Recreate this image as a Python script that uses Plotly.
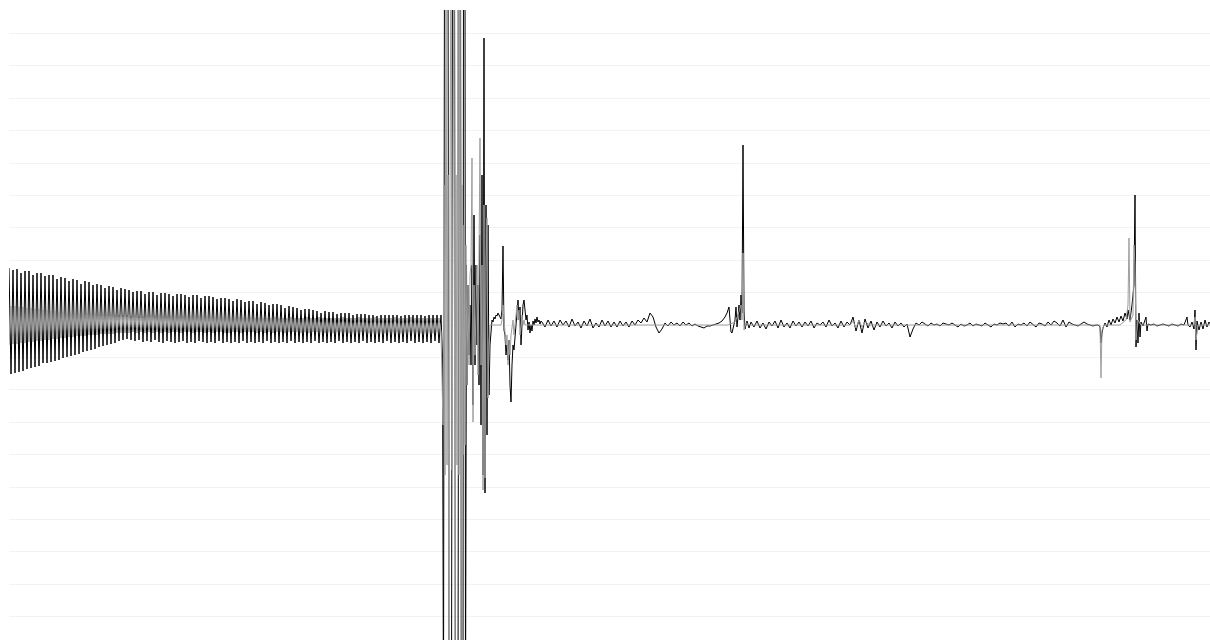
import plotly.graph_objects as go

# ---------------- data (sample index, amplitude) ----------------
# Segment 1: steady oscillation before the event (sampled every 2 samples from 9)
OSC_START, OSC_STEP = 9, 2
BLACK_OSC = [57, -49, 55, -48, 56, -47, 52, -46, 54, -44,
             54, -43, 50, -42, 52, -41, 52, -38, 49, -38,
             50, -37, 50, -36, 46, -35, 48, -33, 47, -32,
             44, -31, 46, -30, 45, -29, 41, -27, 44, -26,
             43, -25, 40, -24, 41, -22, 40, -21, 37, -20,
             39, -19, 38, -18, 35, -16, 37, -15, 36, -14,
             35, -15, 33, -16, 34, -15, 34, -17, 31, -16,
             33, -17, 33, -15, 30, -17, 32, -18, 32, -16,
             31, -17, 29, -18, 31, -17, 31, -16, 30, -18,
             28, -17, 30, -18, 30, -16, 27, -17, 29, -18,
             29, -17, 28, -18, 26, -16, 27, -18, 27, -17,
             26, -18, 24, -17, 26, -18, 25, -16, 23, -18,
             24, -17, 24, -18, 21, -17, 23, -18, 22, -16,
             20, -18, 21, -17, 21, -18, 20, -17, 17, -18,
             19, -16, 18, -18, 17, -17, 15, -18, 16, -17,
             16, -18, 15, -16, 14, -18, 12, -17, 14, -18,
             13, -17, 13, -18, 11, -16, 12, -18, 12, -17,
             12, -18, 10, -17, 11, -18, 11, -16, 11, -18,
             10, -17, 10, -18, 9, -17, 10, -18, 10, -16,
             10, -18, 10, -17, 10, -18, 9, -17, 10, -18,
             10, -16, 10, -18, 10, -17, 10, -18, 9, -17,
             10, -18, 10, -16, 10, -18,
             10]
GRAY_OSC = [-20, 19, -19, 19, -19, 18, -18, 18, -18, 17,
            -17, 17, -17, 16, -16, 16, -16, 15, -15, 15,
            -15, 14, -14, 14, -14, 13, -13, 13, -13, 12,
            -12, 12, -12, 11, -11, 11, -11, 11, -11, 10,
            -10, 10, -10, 10, -10, 9, -9, 9, -9, 9,
            -9, 9, -9, 8, -8, 8, -8, 8, -8, 8,
            -8, 7, -7, 8, -8, 7, -7, 7, -8, 8,
            -7, 8, -8, 7, -7, 8, -8, 7, -7, 7,
            -8, 7, -7, 8, -7, 7, -8, 7, -7, 8,
            -7, 7, -8, 8, -7, 7, -7, 8, -8, 7,
            -7, 7, -8, 7, -7, 8, -7, 7, -8, 7,
            -8, 7, -7, 7, -7, 8, -8, 7, -7, 7,
            -7, 8, -7, 7, -8, 7, -7, 7, -8, 7,
            -7, 7, -8, 8, -7, 7, -7, 7, -8, 7,
            -7, 8, -7, 7, -7, 7, -8, 7, -7, 8,
            -8, 7, -7, 7, -7, 8, -7, 7, -8, 7,
            -7, 7, -8, 7, -7, 7, -7, 8, -7, 7,
            -8, 7, -7, 7, -7, 8, -7, 7, -7, 7,
            -8, 7, -7, 8, -7, 7, -7, 7, -8, 7,
            -7, 7, -7, 8, -7, 7, -8, 7, -7, 7,
            -7, 8, -7, 7, -7, 7, -8, 7, -7, 7,
            -7, 7, -8, 7, -7, 7,
            -7]

# Segment 2a: the event itself (irregular samples, black channel saturates)
BLACK_EVENT_T = [442.5, 443.5, 444.5, 448, 449, 451.5, 452.5, 454.5, 455.5, 458,
                 459, 460.5, 461.5, 463, 463.5, 465, 465.5, 466.5, 467]
BLACK_EVENT_V = [-30, -400, 400, 400, -400, -400, 400, 400, -400, -400,
                 400, 400, -400, -400, 400, 400, -400, 60, -60]

# Segment 2b: decaying aftershocks (every sample from 468)
POST_START, POST_STEP = 468, 1
BLACK_POST = [40, -30, 20, -40, 60,
              -80, 110, -40, 60, -20, 40, -60, 90, -100, 150,
              -150, 287, -168, 120, -110, 100, -70, -20, 0, 5,
              3, 8, 6, 10, 9, 12, 10, 8, 6, 15,
              79, -5, -10, -30, -20, -35, -15, -60, -77, -40,
              -20, -25, -10, 0, 15, 25, 5, 18, -20, 10,
              20, 25, 15, 5, 10, -5, 3, -8, 0, -6,
              4, 0, 6, 2, 8, 3, 5, 1, 4]

# Gray channel through the event (every sample from 443)
BURST_START, BURST_STEP = 443, 1
GRAY_BURST = [-100, 140, -150, 400, -140, 150, -400, 130, 400, -145,
              140, 400, -400, 150, -140, 400, -150, 400, -400, 140,
              -130, 100, -120, 80, -60, 40, -40, 50, 60, 167,
              -97, 40, -30, 20, 60, -50, 80, 187, -40, 60,
              -165, 120, -153, 60, 107, -73, -20, 0, 0, 0,
              0, 0, 0, 0, 0, 0, 0, 0, 0, 5,
              20, 5, -5, -20, -10, -40, -15, -30, -10, 0,
              5, -10, 0, 10, 20, 5, 15, -10, 5, 10,
              0, 5, 0, 0, 0, 0, 0, 0, 0, 0,
              0, 0, 0, 0, 0, 0, 0, 0, 0]

# Segment 3: quiet tail after the event (every 3 samples from 542)
QUIET1_START, QUIET1_STEP = 542, 3
BLACK_QUIET1 = [3, -2, 5, -1, 4, -2, 5, 0, 4, -2,
                6, -1, 3, -3, 4, -1, 6, -3, 2, -2,
                5, -1, 4, -2, 3, -2, 4, -1, 3, -2,
                4, 0, 5, 2, 7, 3, 12, 8, -2, -8,
                -4, 2, -1, 3, 0, 2, -1, 3, 0, 2,
                -1, 1, -1, -2, -3, -1, -1, 0, 1, 2,
                4, 8]

# Segment 4: first secondary spike (irregular samples)
SPIKE1_T = [727, 729, 730, 731, 732, 733, 734, 735, 736, 737,
            738, 739, 740, 741, 742, 743, 744, 745, 747, 749]
SPIKE1_V = [12, 18, 5, -7, -8, -4, 0, 5, 18, -2,
            8, 20, 5, 30, 12, 180, 15, -4, 4, -3]

# Segment 5: long quiet stretch (every 3 samples from 751)
QUIET2_START, QUIET2_STEP = 751, 3
BLACK_QUIET2 = [3, -2, 4, -3, 2, -4, 3, -1, 4, -3, 5, -2, 2, -3, 4, -1, 3,
                -2, 3, -1, 4, -3, 2, 0, 3, -2, 5, -1, 2, -3, 4, -2, 3, 0,
                8, -6, 5, -8, 6, -3, 4, -5, 3, -2, 4, -1, 2, -3, 3, -1, 2,
                -2, 1, -12, -4, 2, 0, 3, 1, -1, 2, 0, 1, -1, 2, 1, 0, 2,
                0, -2, 1, -1, 0, 2, -1, 1, 0, -1, 2, 0, -2, 1, 0, 2, 1,
                2, -1, 3, -2, 1, 0, 2, -1, 3, 0, -2, 2, 1, -1, 3, 0, 4,
                2, -1, 5, -2, 3, 1, 0, -1, 1, 3, 1, 0, -1, 0]

# Segment 6: second secondary spike and end (irregular samples)
LATE_T = [1098, 1100, 1101, 1102, 1103, 1105, 1107, 1109, 1111, 1113,
          1115, 1117, 1119, 1121, 1123, 1125, 1127, 1128, 1130, 1132,
          1134, 1135, 1136, 1137, 1138, 1139, 1140, 1141, 1143, 1146,
          1147, 1148, 1151, 1154, 1157, 1160, 1163, 1166, 1169, 1172,
          1175, 1178, 1181, 1184, 1187, 1188, 1190, 1192, 1194, 1195,
          1196, 1197, 1199, 1201, 1203, 1205, 1207, 1209, 1211]
LATE_V = [0, -2, -18, -8, -3, 2, -2, 5, 0, 6,
          2, 8, 3, 9, 4, 12, 6, 15, 5, 20,
          40, 130, -22, 5, -18, 12, -12, 3, -1, 8,
          -6, 1, 0, 1, -1, 0, 1, 0, -1, 1,
          0, -1, 1, 0, 8, 0, -2, 3, -4, 15,
          -25, 4, -5, 3, -4, 5, -2, 3, 0]

# Gray channel after the event (irregular samples)
GRAY_TAIL_T = [545, 560, 600, 640, 700, 728, 735, 738, 741, 742,
               743, 744, 746, 750, 800, 840, 850, 853, 856, 859,
               862, 865, 870, 900, 950, 1000, 1050, 1098, 1100, 1101,
               1102, 1104, 1120, 1126, 1128, 1129, 1130, 1133, 1134, 1135,
               1136, 1138, 1141, 1150, 1190, 1194, 1195, 1196, 1198, 1211]
GRAY_TAIL_V = [0, 0, 0, 0, 0, 0, 3, 10, 20, 5,
               72, -5, 2, 0, 0, 0, 0, 4, -3, 5,
               -2, 3, 0, 0, 0, 0, 0, 0, 0, -53,
               -5, 0, 0, 5, 20, 87, 3, 10, 80, 60,
               -15, 5, 0, 0, 0, 0, 8, -15, 0, 0]


def grid(start, step, values):
    return [start + step * i for i in range(len(values))]


black_t = (grid(OSC_START, OSC_STEP, BLACK_OSC) + BLACK_EVENT_T
           + grid(POST_START, POST_STEP, BLACK_POST)
           + grid(QUIET1_START, QUIET1_STEP, BLACK_QUIET1) + SPIKE1_T
           + grid(QUIET2_START, QUIET2_STEP, BLACK_QUIET2) + LATE_T)
black_v = (BLACK_OSC + BLACK_EVENT_V + BLACK_POST + BLACK_QUIET1 + SPIKE1_V
           + BLACK_QUIET2 + LATE_V)

gray_t = (grid(OSC_START, OSC_STEP, GRAY_OSC) + grid(BURST_START, BURST_STEP, GRAY_BURST)
          + GRAY_TAIL_T)
gray_v = GRAY_OSC + GRAY_BURST + GRAY_TAIL_V

fig = go.Figure()
fig.add_trace(go.Scatter(x=black_t, y=black_v, mode="lines",
                         line=dict(color="#000000", width=1), hoverinfo="skip",
                         showlegend=False))
fig.add_trace(go.Scatter(x=gray_t, y=gray_v, mode="lines",
                         line=dict(color="#9e9e9e", width=1), hoverinfo="skip",
                         showlegend=False))

fig.update_layout(
    width=1210, height=640,
    margin=dict(l=9, r=0, t=10, b=0, pad=0),
    paper_bgcolor="white", plot_bgcolor="white",
    showlegend=False,
    xaxis=dict(range=[9, 1210], showgrid=False, zeroline=False,
               showticklabels=False, showline=False, ticks=""),
    yaxis=dict(range=[-315, 315], tick0=0, dtick=32.4, showgrid=True,
               gridcolor="#f2f2f2", gridwidth=1, zeroline=False,
               showticklabels=False, showline=False, ticks=""),
)

fig.write_html("out.html", config={"displayModeBar": False},
               post_script="document.body.style.margin='0';document.body.style.overflow='hidden';")
